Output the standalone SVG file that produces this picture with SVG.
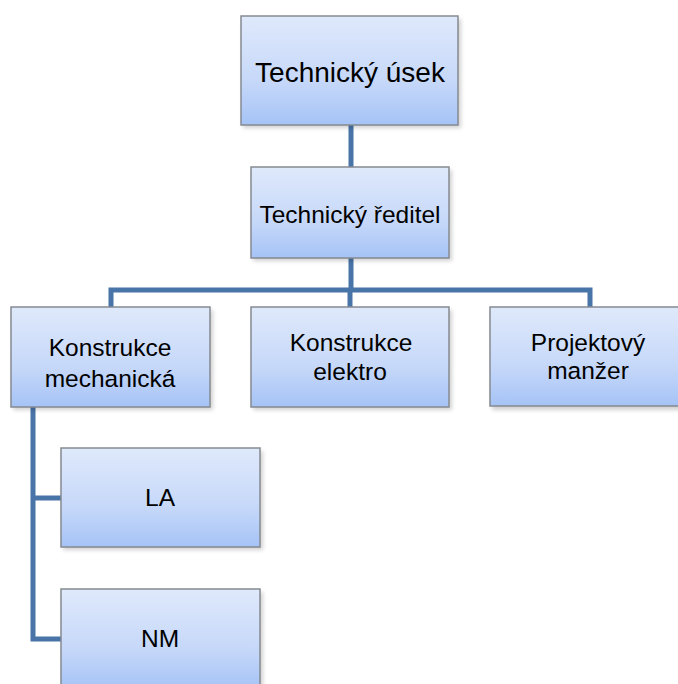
<svg xmlns="http://www.w3.org/2000/svg" width="678" height="684" viewBox="0 0 678 684">
<style>
.box{fill:url(#g);stroke:#858a91;stroke-width:1.5}
.sh{fill:#000;opacity:0.18;filter:url(#blur)}
text{font-family:"Liberation Sans",Arial,sans-serif;fill:#000;text-anchor:middle}
.t{font-size:24.5px}
.conn{fill:none;stroke:#4874a8;stroke-width:5;stroke-linejoin:miter}
</style>
<defs>
<linearGradient id="g" x1="0" y1="0" x2="0" y2="1">
<stop offset="0" stop-color="#dfe9fb"/>
<stop offset="0.6" stop-color="#c6d8f9"/>
<stop offset="1" stop-color="#a5c3f6"/>
</linearGradient>
<filter id="blur" x="-10%" y="-10%" width="120%" height="130%"><feGaussianBlur stdDeviation="2"/></filter>
</defs>
<rect width="678" height="684" fill="#fff"/>
<g id="connectors">
<path class="conn" d="M351 125V167"/>
<path class="conn" d="M351 258V290"/>
<path class="conn" d="M111 307V290H590V307"/>
<path class="conn" d="M350 290V307"/>
<path class="conn" d="M33 407V639H61"/>
<path class="conn" d="M33 498H61"/>
</g>
<g id="n_usek">
<rect class="sh" x="243" y="19" width="218" height="109"/>
<rect class="box" x="241" y="16" width="217" height="109"/>
<text x="350" y="82" style="font-size:28px">Technický úsek</text>
</g>
<g id="n_reditel">
<rect class="sh" x="253" y="170" width="199" height="91"/>
<rect class="box" x="251" y="167" width="198" height="91"/>
<text class="t" x="350" y="223">Technický ředitel</text>
</g>
<g id="n_mech">
<rect class="sh" x="13" y="310" width="200" height="100"/>
<rect class="box" x="11" y="307" width="199" height="100"/>
<text class="t" x="110" y="356">Konstrukce</text>
<text class="t" x="110" y="387">mechanická</text>
</g>
<g id="n_elektro">
<rect class="sh" x="253" y="310" width="199" height="100"/>
<rect class="box" x="251" y="307" width="198" height="100"/>
<text class="t" x="351" y="351">Konstrukce</text>
<text class="t" x="350" y="380">elektro</text>
</g>
<g id="n_pm">
<rect class="sh" x="492" y="310" width="200" height="100"/>
<rect class="box" x="490" y="307" width="199" height="99"/>
<text class="t" x="588" y="351">Projektový</text>
<text class="t" x="588" y="379">manžer</text>
</g>
<g id="n_la">
<rect class="sh" x="63" y="451" width="200" height="99"/>
<rect class="box" x="61" y="448" width="199" height="99"/>
<text class="t" x="160" y="506">LA</text>
</g>
<g id="n_nm">
<rect class="sh" x="63" y="592" width="200" height="100"/>
<rect class="box" x="61" y="589" width="199" height="100"/>
<text class="t" x="160" y="647">NM</text>
</g>
</svg>
